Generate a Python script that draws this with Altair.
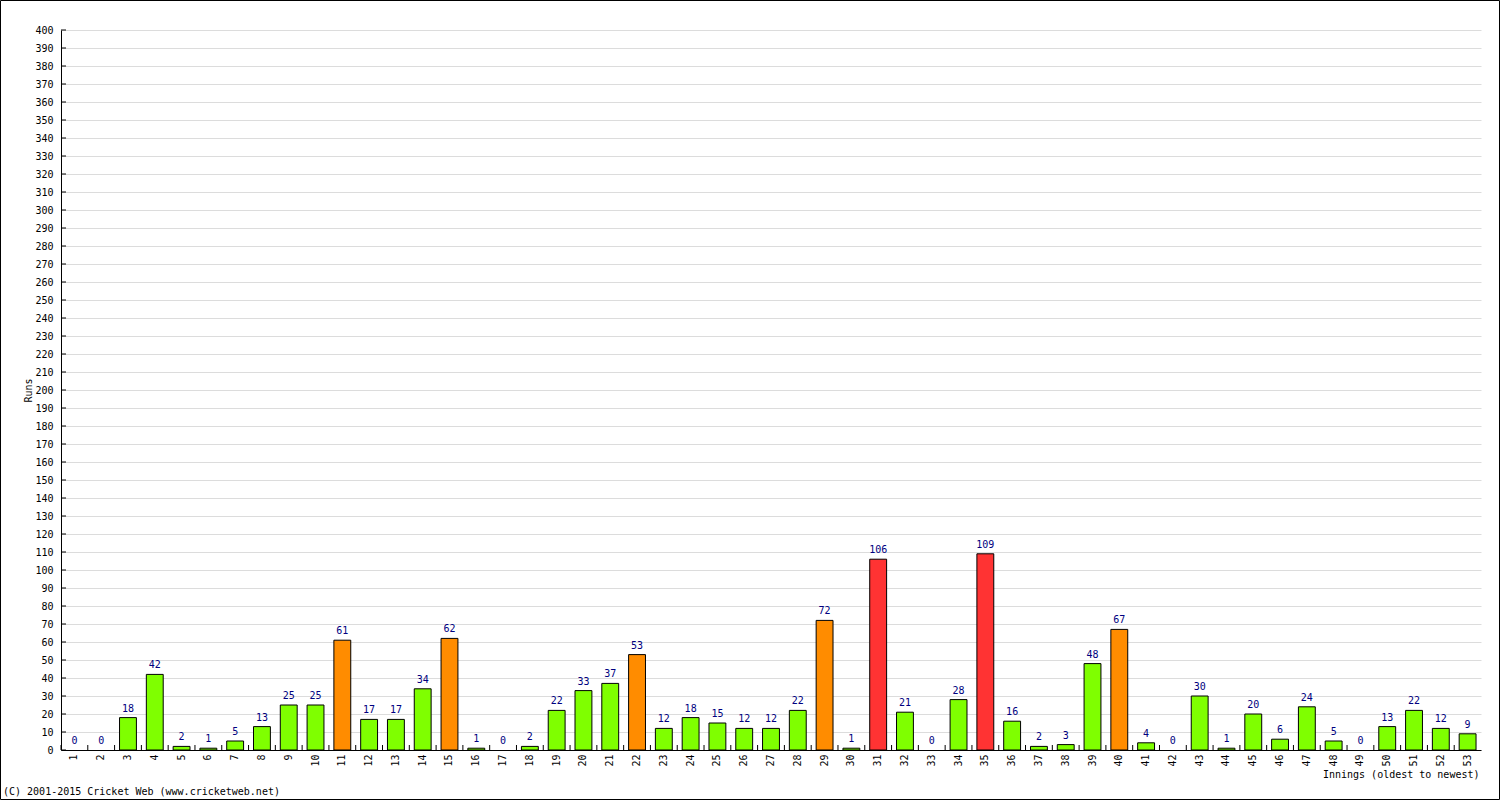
import altair as alt
import pandas as pd

innings = list(range(1, 54))
runs = [0, 0, 18, 42, 2, 1, 5, 13, 25, 25, 61, 17, 17, 34, 62, 1, 0, 2, 22, 33,
        37, 53, 12, 18, 15, 12, 12, 22, 72, 1, 106, 21, 0, 28, 109, 16, 2, 3, 48, 67,
        4, 0, 30, 1, 20, 6, 24, 5, 0, 13, 22, 12, 9]
y_ticks = list(range(0, 401, 10))
footer_text = "(C) 2001-2015 Cricket Web (www.cricketweb.net)"
x_title = "Innings (oldest to newest)"
y_title = "Runs"

FONT = "DejaVu Sans Mono"
W, H = 1420, 720
PL, PT, PR, PB = 61, 30, 19, 50
PAD_IN = 0.37
STEP = W / len(innings)

df = pd.DataFrame({"inning": innings, "runs": runs})
df["band"] = df["runs"].apply(lambda r: "100+" if r >= 100 else ("50+" if r >= 50 else "low"))

xscale = alt.Scale(domain=innings, paddingInner=PAD_IN, paddingOuter=PAD_IN / 2)
yscale = alt.Scale(domain=[0, 400], nice=False, zero=True)

xaxis = alt.Axis(title=x_title, labelAngle=-90, labelFont=FONT, labelFontSize=10,
                 labelColor="black", labelPadding=4, ticks=False, labelOverlap=False,
                 domainColor="black", domainWidth=1,
                 titleFont=FONT, titleFontSize=10, titleFontWeight="normal",
                 titleAnchor="end", titleAlign="right", titleBaseline="middle",
                 titleX=W - 2, titleY=24, grid=False)
yaxis = alt.Axis(title=y_title, values=y_ticks, labelFont=FONT, labelFontSize=10,
                 labelColor="black", labelPadding=8, ticks=False, labelOverlap=False,
                 domainColor="black", domainWidth=1,
                 grid=True, gridColor="#dcdcdc", gridWidth=1,
                 titleFont=FONT, titleFontSize=10, titleFontWeight="normal",
                 titleAngle=-90, titleX=-33, titleY=H / 2,
                 titleAlign="center", titleBaseline="middle")

base = alt.Chart(df)

bars = base.mark_bar(stroke="black", strokeWidth=1).encode(
    x=alt.X("inning:O", scale=xscale, sort=innings, axis=xaxis),
    y=alt.Y("runs:Q", scale=yscale, axis=yaxis),
    color=alt.Color("band:N", scale=alt.Scale(domain=["low", "50+", "100+"],
                                              range=["#7fff00", "#ff8c00", "#ff3333"]),
                    legend=None),
    opacity=alt.condition("datum.runs > 0", alt.value(1), alt.value(0)),
)

labels = base.mark_text(font=FONT, fontSize=10, color="#000080", baseline="bottom", dy=-4).encode(
    x=alt.X("inning:O", scale=xscale, sort=innings, axis=xaxis),
    y=alt.Y("runs:Q", scale=yscale, axis=yaxis),
    text=alt.Text("runs:Q"),
)

xticks = base.mark_rule(color="black", strokeWidth=1, xOffset=-STEP * PAD_IN / 2).encode(
    x=alt.X("inning:O", scale=xscale, sort=innings, bandPosition=0, axis=xaxis),
    y=alt.value(H - 5),
    y2=alt.value(H),
)

chart = alt.layer(bars, labels, xticks).properties(
    width=W, height=H,
    padding={"left": PL, "top": PT, "right": PR, "bottom": PB},
    autosize=alt.AutoSizeParams(type="none"),
    background="white",
)

ytick_df = pd.DataFrame({"runs": y_ticks})
yticks = alt.Chart(ytick_df).mark_rule(color="black", strokeWidth=1).encode(
    y=alt.Y("runs:Q", scale=yscale, axis=yaxis),
    x=alt.value(0),
    x2=alt.value(5),
)

one = pd.DataFrame({"a": [0]})
border = alt.Chart(one).mark_rect(fill="white", fillOpacity=0, stroke="black", strokeWidth=1).encode(
    x=alt.value(-PL + 0.5), x2=alt.value(W + PR - 0.5),
    y=alt.value(-PT + 0.5), y2=alt.value(H + PB - 0.5),
)

footer = alt.Chart(one).mark_text(font=FONT, fontSize=10, color="black", align="left",
                                   baseline="middle", text=footer_text).encode(
    x=alt.value(-PL + 3), y=alt.value(792 - PT),
)

chart = alt.layer(bars, labels, xticks, yticks, border, footer).properties(
    width=W, height=H,
    padding={"left": PL, "top": PT, "right": PR, "bottom": PB},
    autosize=alt.AutoSizeParams(type="none"),
    background="white",
).configure_view(stroke=None)

chart.save("out.html", embed_options={"renderer": "svg", "actions": False})
